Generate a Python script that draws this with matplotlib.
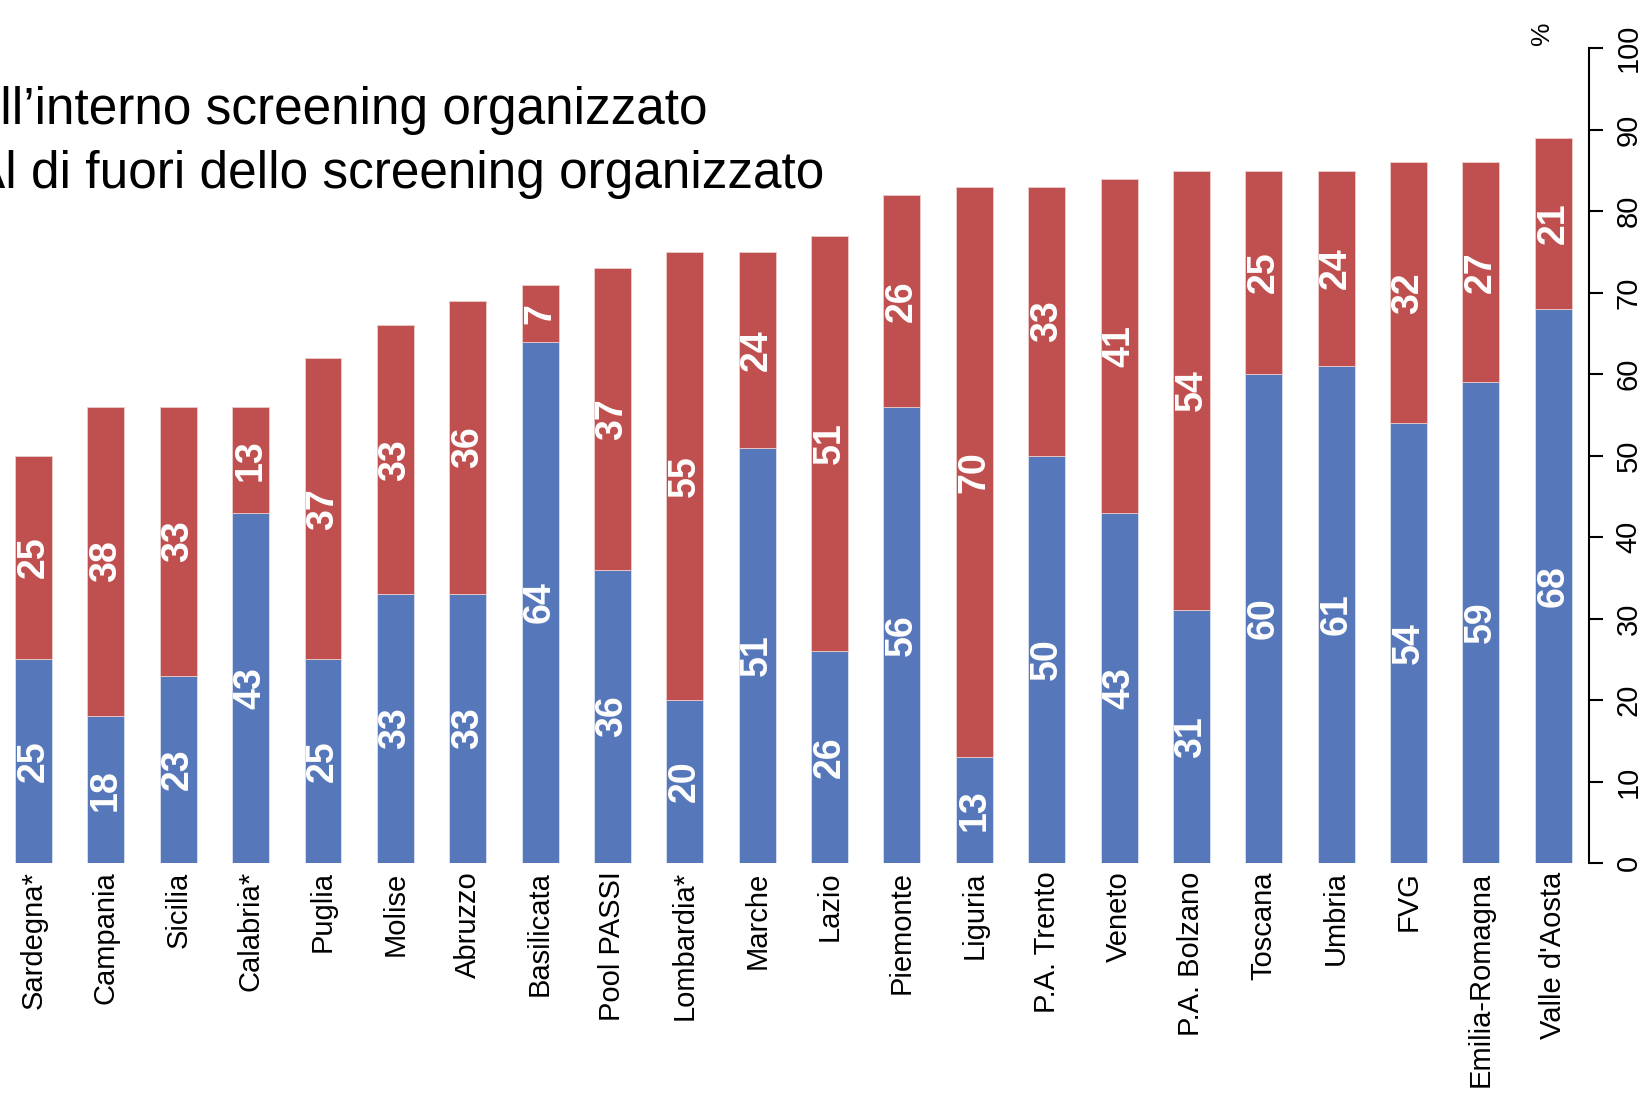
import matplotlib.pyplot as plt
import numpy as np

regioni = ['Sardegna*', 'Campania', 'Sicilia', 'Calabria*', 'Puglia', 'Molise',
           'Abruzzo', 'Basilicata', 'Pool PASSI', 'Lombardia*', 'Marche', 'Lazio',
           'Piemonte', 'Liguria', 'P.A. Trento', 'Veneto', 'P.A. Bolzano',
           'Toscana', 'Umbria', 'FVG', 'Emilia-Romagna', "Valle d'Aosta"]
interno = [25, 18, 23, 43, 25, 33, 33, 64, 36, 20, 51, 26, 56, 13, 50, 43, 31, 60, 61, 54, 59, 68]
fuori = [25, 38, 33, 13, 37, 33, 36, 7, 37, 55, 24, 51, 26, 70, 33, 41, 54, 25, 24, 32, 27, 21]
yticks = list(range(0, 101, 10))

blu = '#5677BA'
rosso = '#C0504F'
font = ['Liberation Sans', 'DejaVu Sans']

fig = plt.figure(figsize=(16.42, 10.98), dpi=100)
ax = fig.add_axes([0.0, 0.214, 0.968, 0.742])

x = np.arange(len(regioni))
w = 0.51
ax.bar(x, interno, w, color=blu, edgecolor='#DCE3F1', linewidth=0.6)
ax.bar(x, fuori, w, bottom=interno, color=rosso, edgecolor='#EBCBCA', linewidth=0.6)

# etichette dentro le barre
for i in range(len(regioni)):
    ax.text(x[i], interno[i] / 2, str(interno[i]), rotation=90, ha='center', va='center',
            color='white', fontsize=27, fontweight='bold', family=font)
    ax.text(x[i], interno[i] + fuori[i] / 2, str(fuori[i]), rotation=90, ha='center',
            va='center', color='white', fontsize=27, fontweight='bold', family=font)

ax.set_xlim(-0.463, 21.5)
ax.set_ylim(0, 100)
ax.set_xticks(x)
ax.set_xticklabels(regioni, rotation=90, ha='center', va='top', fontsize=21, family=font)
ax.tick_params(axis='x', length=0, pad=6)

ax.yaxis.tick_right()
ax.set_yticks(yticks)
ax.set_yticklabels([str(t) for t in yticks], rotation=90, va='center', fontsize=21,
                   family=font)
ax.tick_params(axis='y', direction='out', length=10, width=1.5, pad=8)

for s in ['top', 'left', 'bottom']:
    ax.spines[s].set_visible(False)
ax.spines['right'].set_linewidth(1.5)

ax.text(20.85, 101.8, '%', rotation=90, ha='center', va='center', fontsize=19,
        family=font, clip_on=False)

# legenda (tagliata a sinistra come nell'originale)
fig.text(707 / 1642, 1 - 124 / 1098, "All\u2019interno screening organizzato",
         ha='right', va='baseline', fontsize=37, family=font)
fig.text(824 / 1642, 1 - 188 / 1098, 'Al di fuori dello screening organizzato',
         ha='right', va='baseline', fontsize=37, family=font)

plt.savefig('out.png', dpi=100)
